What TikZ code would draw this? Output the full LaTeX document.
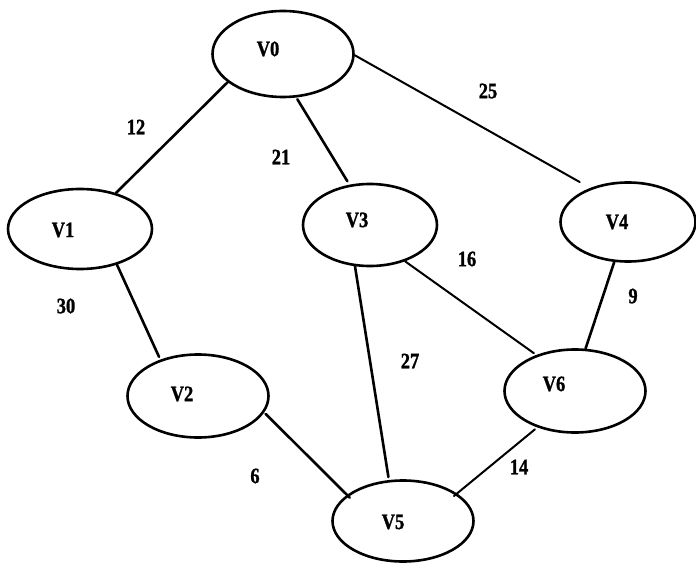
\documentclass[tikz,border=0pt]{standalone}
\usepackage{fontspec}
\newfontfamily\gfont[FakeStretch=0.84,FakeBold=1.2]{Liberation Serif}
\usetikzlibrary{shapes.geometric}
\begin{document}
\begin{tikzpicture}[x=1pt,y=-1pt,
  vert/.style={draw=black, line width=2.6pt, ellipse, inner sep=0pt},
  vname/.style={font=\gfont\bfseries\fontsize{22}{22}\selectfont, inner sep=0pt},
  edge/.style={draw=black, line width=2.6pt, line cap=round},
  thinedge/.style={edge, line width=2pt},
  wt/.style={font=\gfont\bfseries\fontsize{22}{22}\selectfont, inner sep=0pt}]
\useasboundingbox (0,0) rectangle (696,564);
\fill[white] (0,0) rectangle (696,564);
% vertices
\node[vert, minimum width=141pt, minimum height=86pt] (V0) at (283,54) {};
\node[vert, minimum width=144pt, minimum height=80pt] (V1) at (80,229) {};
\node[vert, minimum width=134pt, minimum height=82pt] (V3) at (370,225) {};
\node[vert, minimum width=135pt, minimum height=79pt] (V4) at (628,222) {};
\node[vert, minimum width=141pt, minimum height=83pt] (V2) at (198,396) {};
\node[vert, minimum width=141pt, minimum height=83pt] (V6) at (575,391) {};
\node[vert, minimum width=141pt, minimum height=81pt] (V5) at (403,521) {};
% vertex names
\node[vname] (t0) at (268,49) {V0};
\node[vname] (t1) at (63,230) {V1};
\node[vname] (t3) at (357,220) {V3};
\node[vname] (t4) at (617,222) {V4};
\node[vname] (t2) at (182,394) {V2};
\node[vname] (t6) at (554,384) {V6};
\node[vname] (t5) at (393,522) {V5};
% edges
\draw[edge] (V0.207) -- (V1.45);
\draw[edge, shorten <=2pt, shorten >=4pt] (V0.287) -- (V3.117);
\draw[thinedge, shorten >=12pt] (V0.359) -- (V4.138);
\draw[edge, shorten >=3pt] (V1.316) -- (V2.136);
\draw[edge, shorten >=3pt] (V3.250) -- (V5.109);
\draw[thinedge, shorten >=3pt] (V3.314) -- (V6.137);
\draw[edge] (V4.251) -- (V6.76);
\draw[edge, shorten <=2pt, shorten >=-4pt] (V2.346) -- (V5.155);
\draw[thinedge, shorten <=3pt, shorten >=-4pt] (V6.224) -- (V5.27);
% weights
\node[wt] (w12) at (136,127) {12};
\node[wt] (w21) at (281,157) {21};
\node[wt] (w25) at (488,91) {25};
\node[wt] (w16) at (467,259) {16};
\node[wt] (w30) at (66,306) {30};
\node[wt] (w6) at (255,476) {6};
\node[wt] (w9) at (633,296) {9};
\node[wt] (w27) at (410,361) {27};
\node[wt] (w14) at (519,467) {14};
\end{tikzpicture}
\end{document}
